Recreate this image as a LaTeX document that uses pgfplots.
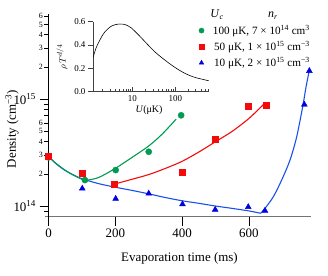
\documentclass[border=0pt]{standalone}
\usepackage{pgfplots}
\pgfplotsset{compat=1.18}
\usepackage{fontspec}
\setmainfont{Liberation Serif}
\definecolor{cgreen}{RGB}{0,155,80}
\definecolor{cred}{RGB}{245,10,10}
\definecolor{cblue}{RGB}{25,80,235}
\definecolor{mblue}{RGB}{0,0,225}
\begin{document}
\begin{tikzpicture}
\path[use as bounding box] (0,0) rectangle (328bp,276bp);
\begin{axis}[
  at={(45.2bp,59.3bp)}, anchor=south west,
  scale only axis, width=265.5bp, height=202.2bp,
  xmin=-10, xmax=785, ymode=log, ymin=7.95e13, ymax=6.2e15,
  axis x line=bottom, axis y line=middle,
  axis line style={-}, x axis line style={black!55, line width=0.8pt},
  y axis line style={black, line width=0.8pt},
  tick align=outside, major tick length=9bp, minor tick length=4.5bp,
  tick style={black, line width=0.7pt},
  xtick={0,200,400,600},
  ytick={1e14,1e15}, yticklabels={10\textsuperscript{14},10\textsuperscript{15}},
  minor ytick={9e13,7e14,8e14,9e14},
  extra y ticks={2e14,3e14,4e14,5e14,6e14,2e15,3e15,4e15,5e15,6e15},
  extra y tick labels={2,3,4,5,6,2,3,4,5,6},
  extra y tick style={major tick length=4.5bp, yticklabel style={font=\fontsize{8}{9}\selectfont, inner sep=1pt}},
  ticklabel style={font=\fontsize{13}{15}\selectfont},
  /pgf/number format/assume math mode=true,
  clip=false,
  legend style={at={(1.003,0.955)}, anchor=north east, draw=none, fill=none,
    font=\fontsize{11.2}{12}\selectfont, row sep=2.5bp, inner sep=0pt,
    nodes={inner sep=1.5pt}},
  legend image post style={mark size=2.6},
  legend image code/.code={\path[draw=none, fill=none] (0cm,-0.05cm) rectangle (0.5cm,0.05cm); \draw[#1] plot coordinates {(0.15cm,0cm)};},
  legend cell align=right,
]
% fitted curves
\addplot[cblue, line width=1.1pt, smooth, forget plot] coordinates {
 (0,2.9e14) (25,2.45e14) (50,2.15e14) (75,1.95e14) (100,1.8e14) (150,1.62e14)
 (200,1.5e14) (250,1.4e14) (300,1.3e14) (350,1.2e14) (400,1.12e14) (450,1.06e14)
 (500,1.0e14) (550,9.5e13) (600,9.0e13) (635,8.55e13)};
\addplot[cblue, line width=1.1pt, smooth, forget plot] coordinates {
 (635,8.55e13) (648,9.5e13) (673,1.22e14) (698,1.75e14) (723,2.69e14)
 (743,4.44e14) (761,8.5e14) (771,1.3e15) (781,1.87e15)};
\addplot[cred, line width=1.1pt, smooth, forget plot] coordinates {
 (196,1.6e14) (250,1.78e14) (300,1.97e14) (350,2.25e14) (400,2.62e14)
 (450,3.2e14) (500,4.0e14) (550,5.0e14) (600,6.6e14) (645,9.0e14)};
\addplot[cgreen, line width=1.1pt, smooth, forget plot] coordinates {
 (0,2.88e14) (25,2.47e14) (50,2.16e14) (75,1.94e14) (100,1.78e14) (112,1.74e14)
 (150,1.85e14) (200,2.25e14) (250,2.85e14) (300,3.65e14) (340,4.7e14) (382,6.5e14)};
% data
\addplot[only marks, mark=*, mark size=3.1, color=cgreen] coordinates {
 (0,2.85e14) (109,1.75e14) (201,2.17e14) (300,3.22e14) (397,7.06e14)};
\addlegendentry{100 μK, 7 × 10\textsuperscript{14} cm\textsuperscript{3}}
\addplot[only marks, mark=square*, mark size=3.0, color=cred] coordinates {
 (0,2.93e14) (101,2.02e14) (196,1.6e14) (401,2.06e14) (499,4.2e14) (598,8.65e14) (651,8.8e14)};
\addlegendentry{50 μK, 1 × 10\textsuperscript{15} cm\textsuperscript{−3}}
\addplot[only marks, mark=triangle*, mark size=3.4, color=mblue] coordinates {
 (101,1.46e14) (201,1.17e14) (300,1.31e14) (401,1.04e14) (499,9.25e13)
 (598,9.8e13) (648,9.05e13) (766,8.9e14) (781,1.84e15)};
\addlegendentry{10 μK, 2 × 10\textsuperscript{15} cm\textsuperscript{−3}}
\end{axis}
% inset
\begin{axis}[
  at={(93bp,184.3bp)}, anchor=south west,
  scale only axis, width=115.7bp, height=70bp,
  xmode=log, xmin=1.2, xmax=600, ymin=0, ymax=0.6,
  axis x line=bottom, axis y line=left, axis line style={-, black!75, line width=0.6pt},
  tick align=inside, major tick length=5bp, minor tick length=3bp,
  tick style={black!75, line width=0.6pt},
  y tick style={xshift=-5bp},
  xtick={10,100}, xticklabels={10,100},
  minor xtick={2,3,4,5,6,7,8,9,20,30,40,50,60,70,80,90,200,300,400,500,600},
  ytick={0,0.2,0.4,0.6},
  yticklabel style={/pgf/number format/fixed, /pgf/number format/precision=1, /pgf/number format/fixed zerofill, xshift=-4bp},
  ticklabel style={font=\fontsize{9}{10}\selectfont},
  /pgf/number format/assume math mode=true,
  clip=false,
]
\addplot[black, line width=0.6pt, smooth] coordinates {
 (1.22,0.30) (1.4,0.37) (1.59,0.415) (1.9,0.47) (2.28,0.514) (2.7,0.54) (3.25,0.563)
 (4,0.575) (5.1,0.58) (6.65,0.576) (8,0.563) (9.5,0.545) (13.6,0.49) (19.4,0.43)
 (33,0.343) (56.6,0.272) (97,0.209) (166,0.158) (284,0.123) (600,0.094)};
\end{axis}
% labels
\node[rotate=90, font=\fontsize{13}{15}\selectfont] at (12bp,147bp) {Density (cm\textsuperscript{−3})};
\node[font=\fontsize{13}{15}\selectfont] at (179.5bp,18bp) {Evaporation time (ms)};
\node[rotate=90, font=\fontsize{9.5}{10}\selectfont] at (62bp,219bp) {$\rho\,T^{d/4}$};
\node[font=\fontsize{10}{12}\selectfont] at (149bp,166bp) {\textit{U}(μK)};
\node[font=\fontsize{12}{14}\selectfont, anchor=base] at (217bp,258bp) {\textit{U}\textsubscript{\textit{c}}};
\node[font=\fontsize{12}{14}\selectfont, anchor=base] at (273bp,258bp) {\textit{n}\textsubscript{\textit{r}}};
\end{tikzpicture}
\end{document}
